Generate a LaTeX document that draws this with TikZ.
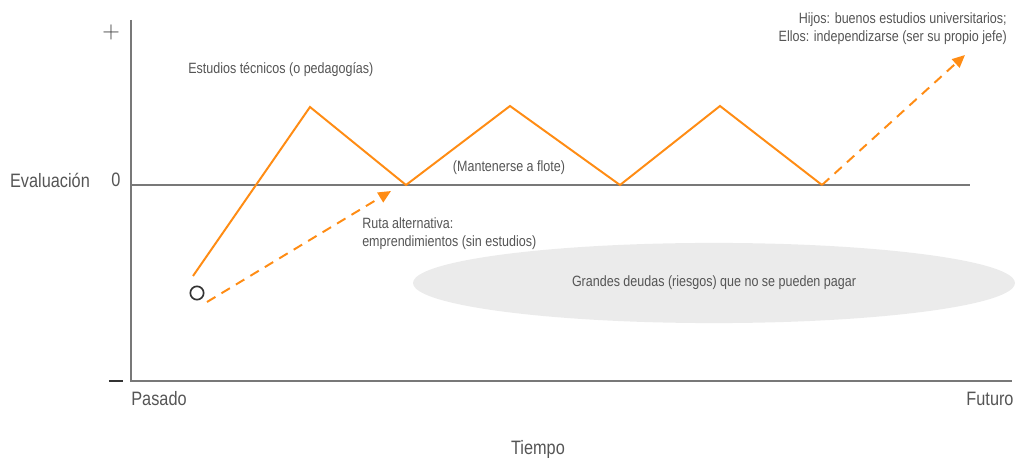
\documentclass[tikz,border=0pt]{standalone}
\usepackage{fontspec}
\setmainfont{Liberation Sans}[FakeStretch=0.84]
\usepackage{tikz}
\usetikzlibrary{positioning,arrows.meta,shapes.geometric}
\definecolor{rutaorange}{RGB}{255,140,20}
\definecolor{textogris}{RGB}{85,85,85}
\definecolor{ejegris}{RGB}{120,120,120}
\definecolor{deudagris}{RGB}{235,235,235}

\begin{document}
\begin{tikzpicture}[x=0.025cm, y=-0.025cm,
        eje/.style ={draw=ejegris, line width=0.9pt},
        ruta/.style ={draw=rutaorange, line width=1.4pt, line join=miter},
        alterna/.style ={draw=rutaorange, line width=1.4pt, dash pattern=on 7pt off 5pt,
            -{Triangle[length=9pt, width=8pt]}},
        etiqueta/.style ={text=textogris, font=\fontsize{10.6}{12.8}\selectfont, inner sep=0pt},
        titulo/.style ={text=textogris, font=\fontsize{13.8}{16}\selectfont, inner sep=0pt}]

    \useasboundingbox (0,0) rectangle (1028,458);

    % nube de deudas
    \node[ellipse, fill=deudagris, minimum width=428pt, minimum height=57pt, inner sep=0pt,
          etiqueta] (deudas) at (714,283) {Grandes deudas (riesgos) que no se pueden pagar};

    % ejes
    \coordinate (arriba) at (131,20);
    \coordinate (origen) at (131,381);
    \coordinate (derecha) at (1012,381);
    \coordinate (cero) at (131,185);
    \coordinate (ceroFin) at (970,185);
    \draw[eje] (arriba) -- (origen) -- (derecha);
    \draw[eje] (cero) -- (ceroFin);

    \node[titulo, text=black!75, font=\fontsize{19}{19}\selectfont] (mas) at (111,32) {$+$};
    \node[titulo] (menos) at (116,381) {\color{black!80}\rule{10pt}{1pt}};
    \node[titulo] (ceroTxt) at (116,180) {0};
    \node[titulo] (evaluacion) at (50,180) {Evaluación};
    \node[titulo] (pasado) at (159,399) {Pasado};
    \node[titulo] (futuro) at (990,399) {Futuro};
    \node[titulo] (tiempo) at (538,449) {Tiempo};

    % ruta principal
    \coordinate (p0) at (193,276);
    \coordinate (p1) at (310,107);
    \coordinate (p2) at (406,185);
    \coordinate (p3) at (510,106);
    \coordinate (p4) at (620,185);
    \coordinate (p5) at (720,106);
    \coordinate (p6) at (822,185);
    \draw[ruta] (p0) -- (p1) -- (p2) -- (p3) -- (p4) -- (p5) -- (p6);

    % rutas alternativas
    \node[circle, draw=black!80, line width=1.2pt, minimum size=9.5pt, inner sep=0pt] (inicio) at (197,293) {};
    \coordinate (a0) at (207,302);
    \coordinate (a1) at (391,191);
    \coordinate (b1) at (965,55);
    \draw[alterna] (a0) -- (a1);
    \draw[alterna] (p6) -- (b1);

    % textos
    \node[etiqueta, anchor=west] (tecnicos) at (188,70) {Estudios técnicos (o pedagogías)};
    \node[etiqueta] (flote) at (509,168) {(Mantenerse a flote)};
    \node[etiqueta, anchor=north west, align=left] (alternativa) at (362,217)
        {Ruta alternativa:\\emprendimientos (sin estudios)};
    \node[etiqueta, anchor=north east, align=right] (hijos) at (1007,12)
        {Hijos: buenos estudios universitarios;\\Ellos: independizarse (ser su propio jefe)};

\end{tikzpicture}
\end{document}
